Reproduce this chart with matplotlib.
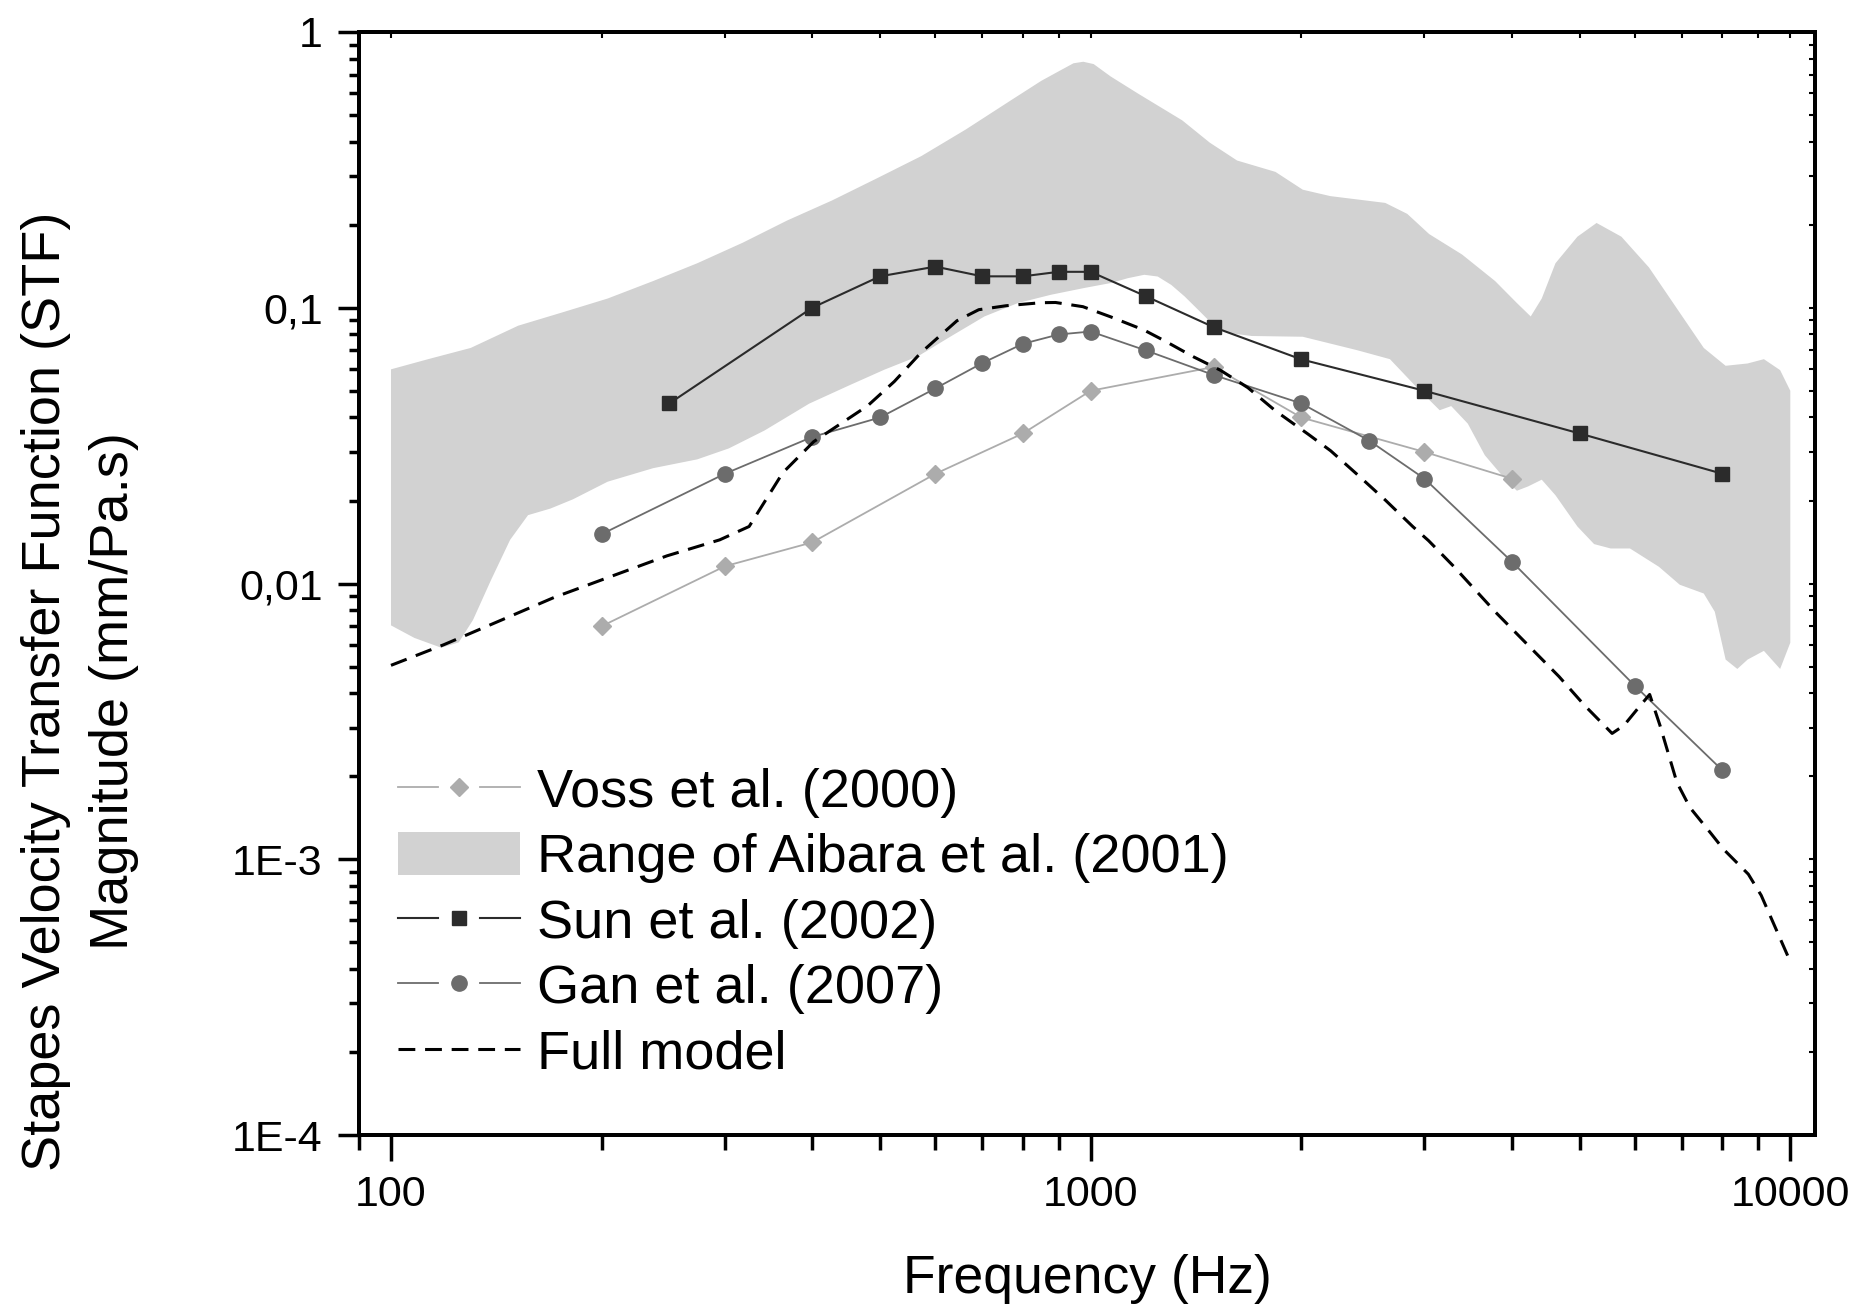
import numpy as np
import matplotlib
matplotlib.use('Agg')
import matplotlib.pyplot as plt
from matplotlib.lines import Line2D
from matplotlib.patches import Patch
from matplotlib.legend_handler import HandlerBase
from matplotlib.ticker import LogLocator, NullFormatter

plt.rcParams['font.family'] = ['Liberation Sans', 'DejaVu Sans']

# Voss et al. (2000)
voss_f = [200, 300, 400, 600, 800, 1000, 1500, 2000, 3000, 4000]
voss_v = [0.0070, 0.01155, 0.0141, 0.025, 0.035, 0.050, 0.061, 0.040, 0.030, 0.024]

# Sun et al. (2002)
sun_f = [250, 400, 500, 600, 700, 800, 900, 1000, 1200, 1500, 2000, 3000, 5000, 8000]
sun_v = [0.045, 0.100, 0.130, 0.141, 0.130, 0.130, 0.135, 0.135, 0.110, 0.085,
         0.065, 0.050, 0.035, 0.025]

# Gan et al. (2007)
gan_f = [200, 300, 400, 500, 600, 700, 800, 900, 1000, 1200, 1500, 2000, 2500,
         3000, 4000, 6000, 8000]
gan_v = [0.0151, 0.025, 0.034, 0.040, 0.051, 0.063, 0.074, 0.080, 0.082, 0.070,
         0.057, 0.045, 0.033, 0.024, 0.012, 0.00425, 0.0021]

# Full model
model_f = [100, 119, 144, 171, 204, 248, 295, 325, 363, 402, 480, 524, 572, 644,
           692, 757, 849, 891, 975, 1068, 1191, 1279, 1401, 1532, 1678, 1837,
           2049, 2203, 2407, 2636, 2886, 3041, 3304, 3795, 4128, 4671, 5078,
           5563, 5786, 6076, 6295, 6512, 6885, 7188, 7704, 8020, 8710, 9087, 9930]
model_v = [0.00505, 0.0060, 0.00738, 0.0089, 0.0105, 0.0126, 0.0144, 0.0161,
           0.0252, 0.0327, 0.0441, 0.054, 0.0687, 0.0897, 0.0984, 0.1017, 0.1043,
           0.1045, 0.1009, 0.0927, 0.0831, 0.0756, 0.0665, 0.0594, 0.0513,
           0.0423, 0.0347, 0.0303, 0.0248, 0.0201, 0.0161, 0.0143, 0.01153,
           0.00785, 0.00632, 0.0046, 0.00362, 0.00286, 0.00306, 0.00356,
           0.00396, 0.00306, 0.0019, 0.00154, 0.00124, 0.00109, 0.000883,
           0.00074, 0.000443]

# Range of Aibara et al. (2001): upper and lower edges
aib_up_f = [100, 113, 130, 152, 176, 204, 237, 274, 318, 368, 427, 494, 573, 663,
            769, 850, 900, 945, 976, 1010, 1068, 1170, 1352, 1480, 1619, 1837,
            2010, 2201, 2637, 2835, 3047, 3395, 3785, 4067, 4256, 4413, 4617,
            4963, 5286, 5736, 6281, 6874, 7522, 8083, 8690, 9168, 9671, 10000]
aib_up_v = [0.0598, 0.0651, 0.0715, 0.0861, 0.0963, 0.108, 0.125, 0.145, 0.172,
            0.207, 0.245, 0.294, 0.355, 0.443, 0.565, 0.665, 0.72, 0.77, 0.78,
            0.765, 0.69, 0.597, 0.478, 0.397, 0.342, 0.311, 0.268, 0.254, 0.240,
            0.219, 0.185, 0.156, 0.125, 0.104, 0.093, 0.108, 0.145, 0.181,
            0.203, 0.181, 0.140, 0.100, 0.0715, 0.0616, 0.0628, 0.0651, 0.0594,
            0.050]
aib_lo_f = [100, 108, 118, 125, 131, 139, 148, 157, 169, 182, 204, 237, 274, 304,
            342, 396, 454, 507, 566, 631, 705, 787, 878, 980, 1070, 1130, 1193,
            1247, 1304, 1362, 1424, 1488, 1573, 1699, 2010, 2402, 2678, 2932,
            3154, 3276, 3460, 3659, 3941, 4067, 4220, 4413, 4617, 4963, 5243,
            5537, 5900, 6490, 6950, 7522, 7800, 8083, 8400, 8690, 9168, 9671, 10000]
aib_lo_v = [0.00705, 0.00635, 0.00585, 0.00612, 0.00738, 0.0103, 0.0144, 0.0177,
            0.0187, 0.0202, 0.0234, 0.0262, 0.0282, 0.0309, 0.0359, 0.0449,
            0.0526, 0.0596, 0.0666, 0.0787, 0.093, 0.104, 0.1115, 0.118, 0.123,
            0.128, 0.1317, 0.1298, 0.121, 0.110, 0.0984, 0.088, 0.081, 0.079,
            0.0785, 0.0702, 0.0651, 0.0511, 0.0425, 0.044, 0.038, 0.0292, 0.0234,
            0.0217, 0.0225, 0.0238, 0.0209, 0.0161, 0.0139, 0.0134, 0.0134,
            0.0115, 0.0099, 0.0092, 0.0079, 0.0053, 0.0049, 0.0053, 0.0057,
            0.0049, 0.0061]

x_ticks = [100, 1000, 10000]
x_labels = ['100', '1000', '10000']
y_ticks = [1e-4, 1e-3, 1e-2, 1e-1, 1]
y_labels = ['1E-4', '1E-3', '0,01', '0,1', '1']

c_voss = '#acacac'
c_sun = '#2b2b2b'
c_gan = '#6c6c6c'
c_band = '#d2d2d2'


class GapLineHandler(HandlerBase):
    # line - marker - line, with a gap around the marker (Origin style)
    def create_artists(self, legend, orig_handle, xdescent, ydescent,
                       width, height, fontsize, trans):
        x0 = -xdescent
        y = (height - ydescent) / 2.0
        c = orig_handle.get_color()
        lw = orig_handle.get_linewidth()
        left = Line2D([x0, x0 + 0.33 * width], [y, y], color=c, lw=lw, transform=trans)
        right = Line2D([x0 + 0.67 * width, x0 + width], [y, y], color=c, lw=lw, transform=trans)
        mk = Line2D([x0 + 0.5 * width], [y], linestyle='none',
                    marker=orig_handle.get_marker(),
                    markersize=orig_handle.get_markersize(),
                    markerfacecolor=orig_handle.get_markerfacecolor(),
                    markeredgecolor=orig_handle.get_markeredgecolor(),
                    transform=trans)
        return [left, right, mk]


fig = plt.figure(figsize=(18.59, 13.06), dpi=100)
ax = fig.add_axes([0.1931, 0.1309, 0.7835, 0.8446])

band_f = aib_up_f + aib_lo_f[::-1]
band_v = aib_up_v + aib_lo_v[::-1]
ax.fill(band_f, band_v, color=c_band, lw=0, zorder=1)

h_voss, = ax.plot(voss_f, voss_v, color=c_voss, lw=1.3, marker='D', ms=9,
                  mfc=c_voss, mec=c_voss, zorder=3)
h_sun, = ax.plot(sun_f, sun_v, color=c_sun, lw=1.5, marker='s', ms=9.5,
                 mfc=c_sun, mec=c_sun, zorder=4)
h_gan, = ax.plot(gan_f, gan_v, color=c_gan, lw=1.3, marker='o', ms=11,
                 mfc=c_gan, mec=c_gan, zorder=5)
h_model, = ax.plot(model_f, model_v, color='black', lw=2.2, dashes=(5.5, 3.2),
                   zorder=6)

ax.set_xscale('log')
ax.set_yscale('log')
ax.set_xlim(90, 10865)
ax.set_ylim(1e-4, 1)

ax.set_xticks(x_ticks, x_labels)
ax.set_yticks(y_ticks, y_labels)
ax.xaxis.set_minor_locator(LogLocator(base=10, subs=np.arange(2, 10), numticks=20))
ax.yaxis.set_minor_locator(LogLocator(base=10, subs=np.arange(2, 10), numticks=20))
ax.xaxis.set_minor_formatter(NullFormatter())
ax.yaxis.set_minor_formatter(NullFormatter())

ax.tick_params(axis='both', which='both', direction='out', width=2.5,
               labelsize=31, colors='black')
ax.tick_params(axis='x', which='major', length=18.5, pad=10)
ax.tick_params(axis='x', which='minor', length=10.5)
ax.tick_params(axis='y', which='major', length=15, pad=11)
ax.tick_params(axis='y', which='minor', length=7.5)
for s in ax.spines.values():
    s.set_linewidth(2.8)

# small inward ticks on top and right
ax_top = ax.twiny()
ax_top.set_xscale('log')
ax_top.set_xlim(ax.get_xlim())
ax_top.set_xticks(x_ticks)
ax_top.xaxis.set_minor_locator(LogLocator(base=10, subs=np.arange(2, 10), numticks=20))
ax_top.tick_params(axis='x', which='both', direction='in', length=4, width=1.5,
                   labeltop=False, labelbottom=False)
ax_top.xaxis.set_minor_formatter(NullFormatter())
ax_right = ax.twinx()
ax_right.set_yscale('log')
ax_right.set_ylim(ax.get_ylim())
ax_right.set_yticks(y_ticks)
ax_right.yaxis.set_minor_locator(LogLocator(base=10, subs=np.arange(2, 10), numticks=20))
ax_right.tick_params(axis='y', which='both', direction='in', length=4, width=1.5,
                     labelright=False, labelleft=False)
ax_right.yaxis.set_minor_formatter(NullFormatter())
for a in (ax_top, ax_right):
    for s in a.spines.values():
        s.set_linewidth(2.8)

fig.text(0.5847, 0.0100, 'Frequency (Hz)', fontsize=38.5, ha='center', va='baseline')
fig.text(0.0428, 0.4709,
         'Stapes Velocity Transfer Function (STF)\nMagnitude (mm/Pa.s)',
         fontsize=39, rotation=90, ha='center', va='center',
         multialignment='center', linespacing=1.46)

band_handle = Patch(facecolor=c_band, edgecolor='none')
leg = ax.legend([h_voss, band_handle, h_sun, h_gan, h_model],
                ['Voss et al. (2000)', 'Range of Aibara et al. (2001)',
                 'Sun et al. (2002)', 'Gan et al. (2007)', 'Full model'],
                loc='upper left', bbox_to_anchor=(0.0268, 0.334),
                frameon=False, fontsize=39, borderpad=0, borderaxespad=0,
                handlelength=2.25, handleheight=0.85, handletextpad=0.31,
                labelspacing=0.26,
                handler_map={h_voss: GapLineHandler(), h_sun: GapLineHandler(),
                             h_gan: GapLineHandler()})
leg.set_zorder(10)

fig.savefig('out.png', dpi=100)
